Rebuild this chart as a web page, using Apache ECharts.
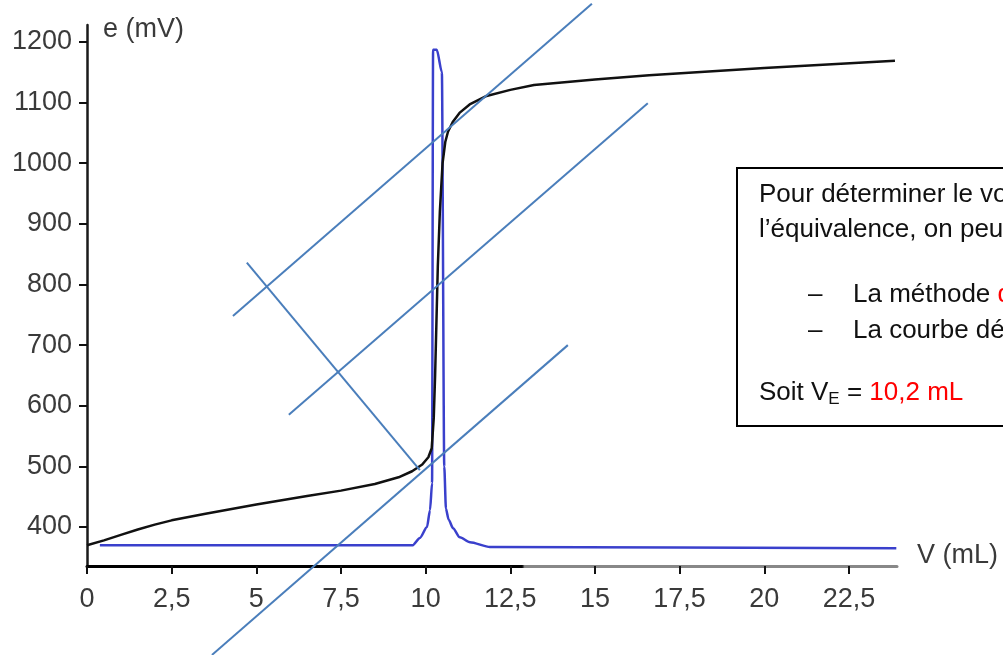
<!DOCTYPE html>
<html>
<head>
<meta charset="utf-8">
<script src="https://cdn.jsdelivr.net/npm/echarts@6/dist/echarts.min.js"></script>
<style>
  html, body { margin: 0; padding: 0; background: #fff; }
  #main { width: 1003px; height: 655px; }
</style>
</head>
<body>
<div id="main"></div>
<script>
var chartDom = document.getElementById('main');
var myChart = echarts.init(chartDom);
var option;

var fontFam = 'Liberation Sans, Arial, sans-serif';

// tick values
let xTicks = [0, 2.5, 5, 7.5, 10, 12.5, 15, 17.5, 20, 22.5];
let yTicks = [400, 500, 600, 700, 800, 900, 1000, 1100, 1200];

// titration curve e = f(V)
let volPot = [0, 0.5, 1, 1.5, 2, 2.5, 3.5, 5, 6.5, 7.5, 8.5, 9.2, 9.6, 9.9, 10.08, 10.18, 10.24, 10.28, 10.32, 10.36, 10.42, 10.5, 10.58, 10.66, 10.8, 11, 11.3, 11.8, 12.5, 13.2, 15, 16.6, 20, 23.86];
let ePot = [370, 378, 387, 396, 404, 411, 422, 437, 451, 460, 471, 482, 492, 503, 515, 530, 580, 650, 740, 830, 920, 1000, 1035, 1052, 1068, 1083, 1097, 1111, 1121, 1129, 1138, 1145, 1157, 1169];

// derivative curve (drawn in the same frame)
let volDer = [0.38, 9.62, 9.83, 10.04, 10.13, 10.19, 10.22, 10.33, 10.48, 10.55, 10.6, 10.68, 10.81, 11.01, 11.31, 11.9, 23.9];
let eDer = [370, 370, 382, 400, 428, 472, 1187, 1187, 1150, 500, 430, 412, 398, 383, 375, 367, 365];

// hand-drawn construction lines (tangents method)
let tanHigh = [[4.31, 748], [14.91, 1263]];
let tanMid = [[5.96, 585], [16.56, 1099]];
let tanLow = [[3.69, 189], [14.2, 700]];
let perp = [[4.72, 836], [9.83, 494]];

function pairs(xs, ys) {
  return xs.map(function (x, i) { return [x, ys[i]]; });
}

function constructionLine(data) {
  return {
    type: 'line',
    data: data,
    showSymbol: false,
    clip: false,
    z: 5,
    lineStyle: { color: '#4a7ebb', width: 2 }
  };
}

option = {
  animation: false,
  backgroundColor: '#fff',
  grid: { left: 87, right: 106, top: 25, bottom: 89, containLabel: false },
  xAxis: {
    type: 'value',
    min: 0,
    max: 23.92,
    name: 'V (mL)',
    nameLocation: 'end',
    nameGap: 20,
    nameTextStyle: { fontFamily: fontFam, fontSize: 27, color: '#3a3a3a', verticalAlign: 'bottom', lineHeight: 20 },
    splitLine: { show: false },
    axisLine: {
      lineStyle: {
        width: 3,
        color: new echarts.graphic.LinearGradient(0, 0, 1, 0, [
          { offset: 0, color: '#000' },
          { offset: 0.537, color: '#000' },
          { offset: 0.54, color: '#888' },
          { offset: 1, color: '#888' }
        ])
      }
    },
    axisTick: { customValues: xTicks, length: 8, lineStyle: { color: '#111', width: 2 } },
    axisLabel: {
      customValues: xTicks,
      margin: 20,
      fontFamily: fontFam,
      fontSize: 27,
      color: '#3a3a3a',
      formatter: function (v) { return String(v).replace('.', ','); }
    }
  },
  yAxis: {
    type: 'value',
    min: 335.7,
    max: 1228,
    name: 'e (mV)',
    nameLocation: 'end',
    nameGap: -5,
    nameTextStyle: { fontFamily: fontFam, fontSize: 27, color: '#3a3a3a', align: 'left', verticalAlign: 'middle', padding: [0, 0, 0, 16] },
    splitLine: { show: false },
    axisLine: { show: true, lineStyle: { width: 2.5, color: '#1a1a1a' } },
    axisTick: { show: true, customValues: yTicks, length: 8, lineStyle: { color: '#111', width: 2 } },
    axisLabel: {
      customValues: yTicks,
      margin: 15,
      fontFamily: fontFam,
      fontSize: 27,
      color: '#3a3a3a',
      formatter: function (v) { return String(v); }
    }
  },
  series: [
    {
      type: 'line',
      data: pairs(volDer, eDer),
      showSymbol: false,
      smooth: 0.25,
      smoothMonotone: 'x',
      z: 3,
      lineStyle: { color: '#3a40cc', width: 2.5 }
    },
    {
      type: 'line',
      data: pairs(volPot, ePot),
      showSymbol: false,
      z: 4,
      lineStyle: { color: '#111', width: 2.5, join: 'round' }
    },
    constructionLine(tanHigh),
    constructionLine(tanMid),
    constructionLine(tanLow),
    constructionLine(perp)
  ],
  graphic: [
    {
      type: 'rect',
      z: 20,
      shape: { x: 737, y: 168, width: 330, height: 258 },
      style: { fill: '#fff', stroke: '#000', lineWidth: 2 }
    },
    {
      type: 'text', z: 21, x: 759, y: 195,
      style: { text: 'Pour déterminer le volume à', font: '26px ' + fontFam, fill: '#111', textAlign: 'left', textVerticalAlign: 'middle' }
    },
    {
      type: 'text', z: 21, x: 759, y: 230,
      style: { text: 'l’équivalence, on peut utiliser :', font: '26px ' + fontFam, fill: '#111', textAlign: 'left', textVerticalAlign: 'middle' }
    },
    {
      type: 'text', z: 21, x: 808, y: 295,
      style: { text: '–', font: '26px ' + fontFam, fill: '#111', textAlign: 'left', textVerticalAlign: 'middle' }
    },
    {
      type: 'text', z: 21, x: 853, y: 295,
      style: {
        text: '{n|La méthode }{r|des tangentes}',
        textAlign: 'left', textVerticalAlign: 'middle',
        rich: {
          n: { fontSize: 26, fontFamily: fontFam, fill: '#111' },
          r: { fontSize: 26, fontFamily: fontFam, fill: '#ff0000' }
        }
      }
    },
    {
      type: 'text', z: 21, x: 808, y: 331,
      style: { text: '–', font: '26px ' + fontFam, fill: '#111', textAlign: 'left', textVerticalAlign: 'middle' }
    },
    {
      type: 'text', z: 21, x: 853, y: 331,
      style: { text: 'La courbe dérivée', font: '26px ' + fontFam, fill: '#111', textAlign: 'left', textVerticalAlign: 'middle' }
    },
    {
      type: 'text', z: 21, x: 759, y: 393,
      style: {
        text: '{n|Soit V}{s|E}{n| = }{r|10,2 mL}',
        textAlign: 'left', textVerticalAlign: 'middle',
        rich: {
          n: { fontSize: 26, fontFamily: fontFam, fill: '#111', lineHeight: 30 },
          s: { fontSize: 17, fontFamily: fontFam, fill: '#111', lineHeight: 17, verticalAlign: 'bottom', padding: [4, 0, 0, 0] },
          r: { fontSize: 26, fontFamily: fontFam, fill: '#ff0000', lineHeight: 30 }
        }
      }
    }
  ]
};

option && myChart.setOption(option);
</script>
</body>
</html>
